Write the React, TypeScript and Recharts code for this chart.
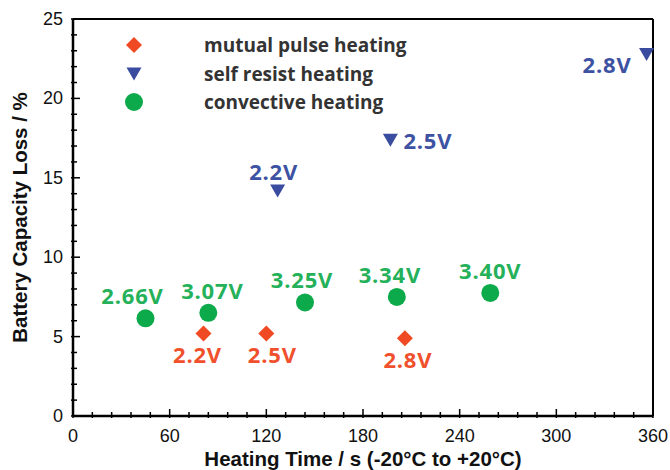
import { ScatterChart, Scatter, XAxis, YAxis, ReferenceLine } from "recharts"

// mutual pulse heating
const pulseTime = [81, 120, 206]
const pulseLoss = [5.2, 5.2, 4.9]
const pulseVolts = ["2.2V", "2.5V", "2.8V"]

// self resist heating
const resistTime = [127, 197, 356]
const resistLoss = [14.2, 17.4, 22.8]
const resistVolts = ["2.2V", "2.5V", "2.8V"]

// convective heating
const convectTime = [45, 84, 144, 201, 259]
const convectLoss = [6.15, 6.5, 7.15, 7.5, 7.75]
const convectVolts = ["2.66V", "3.07V", "3.25V", "3.34V", "3.40V"]

const xTicks = [
  0, 12, 24, 36, 48, 60, 72, 84, 96, 108, 120, 132, 144, 156, 168, 180, 192, 204, 216, 228, 240,
  252, 264, 276, 288, 300, 312, 324, 336, 348, 360,
]
const yTicks = [
  0, 1, 2, 3, 4, 5, 6, 7, 8, 9, 10, 11, 12, 13, 14, 15, 16, 17, 18, 19, 20, 21, 22, 23, 24, 25,
]

// label placement tweaks (px) so neighbouring labels don't collide
const resistLabelSide = ["top", "right", "left"]
const pulseLabelShift = [-6, 6, 3]
const convectLabelShift = [-13, 4, -3, -7, 0]

const RED = "#ef4a23"
const BLUE = "#3a4c9f"
const GREEN = "#0caa4b"
const RED_TEXT = "#f0502c"
const BLUE_TEXT = "#3d52a2"
const GREEN_TEXT = "#25b15a"

const labelFont = "'Open Sans', 'Noto Sans', sans-serif"
const axisFont = "'Liberation Sans', Arial, sans-serif"

const rows = (xs: number[], ys: number[], labels: string[]) =>
  xs.map((x, i) => ({ time: x, loss: ys[i], label: labels[i], idx: i }))

const pulseData = rows(pulseTime, pulseLoss, pulseVolts)
const resistData = rows(resistTime, resistLoss, resistVolts)
const convectData = rows(convectTime, convectLoss, convectVolts)

const VoltText = ({ x, y, color, anchor = "middle", children }: any) => (
  <text
    x={x}
    y={y}
    fill={color}
    textAnchor={anchor}
    dominantBaseline="central"
    fontFamily={labelFont}
    fontWeight={700}
    fontSize={22}
    letterSpacing={0.8}
  >
    {children}
  </text>
)

const diamond = (cx: number, cy: number, r: number) =>
  `${cx},${cy - r} ${cx + r},${cy} ${cx},${cy + r} ${cx - r},${cy}`
const triangle = (cx: number, cy: number) =>
  `${cx - 7.5},${cy - 6} ${cx + 7.5},${cy - 6} ${cx},${cy + 7}`

const PulseShape = (props: any) => {
  const { cx, cy, payload } = props
  return (
    <g>
      <polygon points={diamond(cx, cy, 8)} fill={RED} />
      <VoltText x={cx + pulseLabelShift[payload.idx]} y={cy + 21} color={RED_TEXT}>
        {payload.label}
      </VoltText>
    </g>
  )
}

const ResistShape = (props: any) => {
  const { cx, cy, payload } = props
  const side = resistLabelSide[payload.idx]
  let label
  if (side === "top")
    label = (
      <VoltText x={cx - 4} y={cy - 20} color={BLUE_TEXT}>
        {payload.label}
      </VoltText>
    )
  else if (side === "right")
    label = (
      <VoltText x={cx + 13} y={cy} color={BLUE_TEXT} anchor="start">
        {payload.label}
      </VoltText>
    )
  else
    label = (
      <VoltText x={cx - 15} y={cy + 10} color={BLUE_TEXT} anchor="end">
        {payload.label}
      </VoltText>
    )
  return (
    <g>
      <polygon points={triangle(cx, cy)} fill={BLUE} />
      {label}
    </g>
  )
}

const ConvectShape = (props: any) => {
  const { cx, cy, payload } = props
  return (
    <g>
      <circle cx={cx} cy={cy} r={9} fill={GREEN} />
      <VoltText x={cx + convectLabelShift[payload.idx]} y={cy - 23} color={GREEN_TEXT}>
        {payload.label}
      </VoltText>
    </g>
  )
}

const XTick = (props: any) => {
  const { x, y, payload } = props
  const v = payload.value
  const major = v % 60 === 0
  return (
    <g>
      <line x1={x} x2={x} y1={y} y2={y - (major ? 9 : 6)} stroke="#000" strokeWidth={1.5} />
      {major && (
        <text x={x} y={y + 24} textAnchor="middle" fontFamily={axisFont} fontSize={18} fill="#111">
          {v}
        </text>
      )}
    </g>
  )
}

const YTick = (props: any) => {
  const { x, y, payload } = props
  const v = payload.value
  const major = v % 5 === 0
  return (
    <g>
      <line x1={x} x2={x + (major ? 9 : 6)} y1={y} y2={y} stroke="#000" strokeWidth={1.5} />
      {major && (
        <text
          x={x - 8}
          y={y}
          textAnchor="end"
          dominantBaseline="central"
          fontFamily={axisFont}
          fontSize={18}
          fill="#111"
        >
          {v}
        </text>
      )}
    </g>
  )
}

const legendItems = [
  { name: "mutual pulse heating", kind: "diamond" },
  { name: "self resist heating", kind: "triangle" },
  { name: "convective heating", kind: "circle" },
]

// legend drawn over the plot's top-left corner
const LegendBox = () => (
  <svg width={360} height={110} style={{ position: "absolute", left: 120, top: 20, overflow: "visible" }}>
    {legendItems.map((item, i) => {
      const cy = 25 + i * 28.5
      const cx = 14
      return (
        <g key={item.name}>
          {item.kind === "diamond" && <polygon points={diamond(cx, cy, 8)} fill={RED} />}
          {item.kind === "triangle" && <polygon points={triangle(cx, cy)} fill={BLUE} />}
          {item.kind === "circle" && <circle cx={cx} cy={cy} r={9} fill={GREEN} />}
          <text
            x={84}
            y={cy}
            dominantBaseline="central"
            fontFamily={labelFont}
            fontWeight={700}
            fontSize={19}
            fill="#333"
          >
            {item.name}
          </text>
        </g>
      )
    })}
  </svg>
)

export default function App() {
  return (
    <div style={{ position: "absolute", left: 0, top: 0, width: 670, height: 470, background: "#fff" }}>
      <ScatterChart width={670} height={470} margin={{ top: 19, right: 17, bottom: 0, left: 0 }}>
        <XAxis
          type="number"
          dataKey="time"
          domain={[0, 360]}
          ticks={xTicks}
          interval={0}
          tickSize={0}
          tickLine={false}
          tick={<XTick />}
          height={54}
          axisLine={{ stroke: "#000", strokeWidth: 2.5 }}
          label={{
            value: "Heating Time / s (-20°C to +20°C)",
            position: "insideBottom",
            offset: 4,
            style: { fontFamily: axisFont, fontWeight: 700, fontSize: 20.5, fill: "#111" },
          }}
        />
        <YAxis
          type="number"
          dataKey="loss"
          domain={[0, 25]}
          ticks={yTicks}
          interval={0}
          tickSize={0}
          tickLine={false}
          tick={<YTick />}
          width={73}
          axisLine={{ stroke: "#000", strokeWidth: 2.5 }}
          label={{
            value: "Battery Capacity Loss / %",
            angle: -90,
            position: "insideLeft",
            offset: 20,
            style: { textAnchor: "middle", fontFamily: axisFont, fontWeight: 700, fontSize: 20.5, fill: "#111" },
          }}
        />
        <ReferenceLine y={25} stroke="#000" strokeWidth={2} />
        <ReferenceLine x={360} stroke="#000" strokeWidth={2} />
        <Scatter name="mutual pulse heating" data={pulseData} shape={<PulseShape />} isAnimationActive={false} />
        <Scatter name="self resist heating" data={resistData} shape={<ResistShape />} isAnimationActive={false} />
        <Scatter name="convective heating" data={convectData} shape={<ConvectShape />} isAnimationActive={false} />
      </ScatterChart>
      <LegendBox />
    </div>
  )
}
